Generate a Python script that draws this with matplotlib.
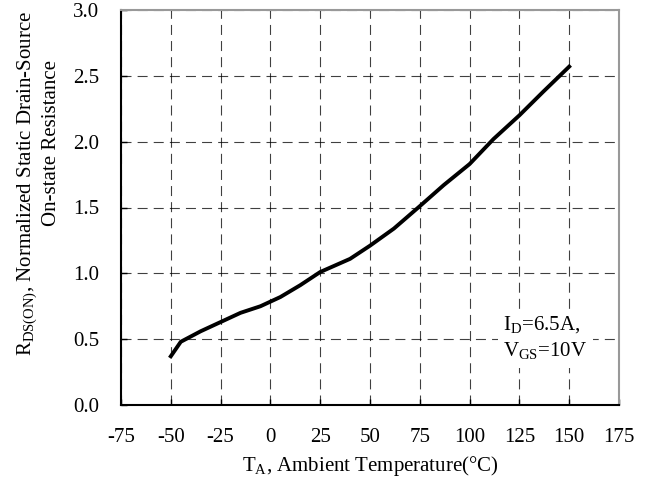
import matplotlib.pyplot as plt

plt.rcParams['font.family'] = ['Liberation Serif', 'DejaVu Serif']
plt.rcParams['mathtext.fontset'] = 'custom'
plt.rcParams['mathtext.rm'] = 'Liberation Serif'

# normalized on-resistance vs ambient temperature
temp = [-50, -45, -35, -25, -15, -5, 5, 15, 25, 40, 50, 62, 75, 87, 100, 112, 125, 137, 150]
rds = [0.37, 0.48, 0.56, 0.63, 0.70, 0.75, 0.82, 0.91, 1.01, 1.11, 1.21, 1.34, 1.51, 1.67, 1.83, 2.02, 2.20, 2.38, 2.57]

xticks = [-75, -50, -25, 0, 25, 50, 75, 100, 125, 150, 175]
yticks = [0.0, 0.5, 1.0, 1.5, 2.0, 2.5, 3.0]

fig = plt.figure(figsize=(6.47, 4.79), dpi=100)
ax = fig.add_axes([121 / 647, 74 / 479, 498 / 647, 395 / 479])

ax.plot(temp, rds, color='black', linewidth=2.8, solid_joinstyle='round')

ax.set_xlim(-75, 175)
ax.set_ylim(0, 3.0)
ax.set_xticks(xticks)
ax.set_xticklabels([str(t) for t in xticks])
ax.set_yticks(yticks)
ax.set_yticklabels(['%.1f' % v for v in yticks])
ax.tick_params(direction='in', labelsize=15, length=4, width=1)
ax.tick_params(axis='x', pad=16.5)
ax.tick_params(axis='y', pad=15.5)
ax.grid(True, linestyle=(0, (9, 5.5)), color='black', linewidth=0.8, alpha=0.75)
for s in ax.spines.values():
    s.set_linewidth(1.5)
ax.spines['top'].set_color('#999999')
ax.spines['right'].set_color('#999999')

ax.set_xlabel(r'T$_{\mathrm{A}}$, Ambient Temperature(°C)', fontsize=15, labelpad=5)
fig.text(28 / 647, 1 - 183 / 479, 'R$_{\\mathrm{DS(ON)}}$, Normalized Static Drain-Source',
         rotation=90, fontsize=15, ha='center', va='center')
fig.text(52 / 647, 1 - 143 / 479, 'On-state Resistance',
         rotation=90, fontsize=15, ha='center', va='center')

ax.text(0.768, 0.168, 'I$_{\\mathrm{D}}$=6.5A,\nV$_{\\mathrm{GS}}$=10V', transform=ax.transAxes,
        fontsize=15, ha='left', va='center', linespacing=1.25,
        bbox=dict(facecolor='white', edgecolor='none', pad=4))

plt.savefig('out.png', dpi=100)
